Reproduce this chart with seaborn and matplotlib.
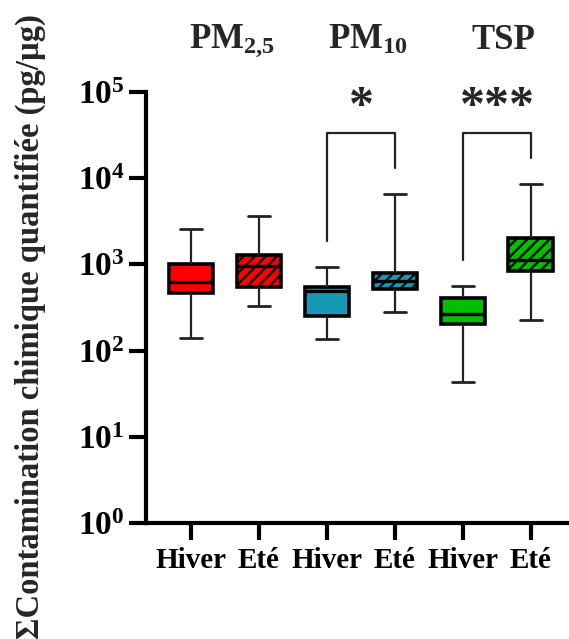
import matplotlib
matplotlib.use("Agg")
import matplotlib.pyplot as plt
import seaborn as sns
import pandas as pd
import numpy as np

# ---- data (min, Q1, median, Q3, max) ----
groups = ["PM$_{2{,}5}$", "PM$_{10}$", "TSP"]
seasons = ["Hiver", "Eté"]
hiver_pm25 = [140, 470, 630, 1010, 2550]
ete_pm25 = [329, 542, 966, 1285, 3670]
hiver_pm10 = [137, 252, 490, 551, 925]
ete_pm10 = [278, 523, 642, 795, 6560]
hiver_tsp = [43, 202, 268, 408, 557]
ete_tsp = [226, 845, 1125, 2025, 8490]
tick_labels = ["Hiver", "Eté", "Hiver", "Eté", "Hiver", "Eté"]
y_ticks = [1, 10, 100, 1000, 10000, 100000]
significance = {"PM$_{10}$": "*", "TSP": "***"}
group_colors = ["#FF0000", "#1699B4", "#00BF00"]

series = [hiver_pm25, ete_pm25, hiver_pm10, ete_pm10, hiver_tsp, ete_tsp]
cats = [f"{g} {s}" for g in groups for s in seasons]
rows = []
for c, vals in zip(cats, series):
    for v in vals:
        rows.append({"cat": c, "val": v})
df = pd.DataFrame(rows)
palette = [col for col in group_colors for _ in seasons]

sns.set_theme(style="ticks")
plt.rcParams["font.family"] = ["Liberation Serif", "DejaVu Serif"]
plt.rcParams["font.weight"] = "bold"
plt.rcParams["mathtext.fontset"] = "custom"
plt.rcParams["mathtext.rm"] = "Liberation Serif:bold"
plt.rcParams["mathtext.bf"] = "Liberation Serif:bold"
plt.rcParams["mathtext.it"] = "Liberation Serif:bold"
plt.rcParams["mathtext.default"] = "bf"
plt.rcParams["hatch.linewidth"] = 1.6
plt.rcParams["hatch.color"] = "black"
plt.rcParams["axes.edgecolor"] = "black"

fig = plt.figure(figsize=(5.69, 6.39), dpi=100)
ax = fig.add_axes([146 / 569, 1 - 523 / 639, 1 - 146 / 569, (523 - 92) / 639])

sns.boxplot(data=df, x="cat", y="val", hue="cat", palette=palette, legend=False,
            order=cats, hue_order=cats, whis=(0, 100), width=0.66,
            log_scale=True, linecolor="black", linewidth=2.0, saturation=1,
            showfliers=False, ax=ax,
            boxprops=dict(linewidth=2.6),
            medianprops=dict(linewidth=2.4, color="black"),
            whiskerprops=dict(linewidth=1.6, color="#222222"),
            capprops=dict(linewidth=2.0, color="#222222"))

for i, p in enumerate(ax.patches):
    if i % 2 == 1:
        p.set_hatch("///")
    p.set_edgecolor("black")

ax.set_yscale("log")
ax.set_ylim(1, 1e5)
ax.set_xlim(-0.662, 5.56)
ax.set_yticks(y_ticks)
ax.set_yticklabels([rf"$\mathbf{{10^{{{int(np.log10(t))}}}}}$" for t in y_ticks])
ax.yaxis.set_minor_locator(matplotlib.ticker.NullLocator())
ax.set_xticks(range(len(cats)))
ax.set_xticklabels(tick_labels)
ax.set_xlabel("")
ax.set_ylabel("")
for s in ["top", "right"]:
    ax.spines[s].set_visible(False)
for s in ["left", "bottom"]:
    ax.spines[s].set_linewidth(3.0)
    ax.spines[s].set_color("black")
ax.tick_params(axis="both", width=3.0, length=12.5, colors="black")
ax.tick_params(axis="y", pad=3, labelsize=24)
ax.tick_params(axis="x", pad=5, labelsize=21)
for lab in ax.get_xticklabels() + ax.get_yticklabels():
    lab.set_fontweight("bold")

# group titles
for gi, g in enumerate(groups):
    xc = gi * 2 + 0.5
    ax.text(xc + 0.1, 10 ** 5.60, g, ha="center", va="center", fontsize=25,
            fontweight="bold", clip_on=False)

# significance brackets
top = 10 ** 4.524
for gi, g in enumerate(groups):
    if g not in significance:
        continue
    x0, x1 = gi * 2, gi * 2 + 1
    y0 = max(series[x0]) * 2.0
    y1 = max(series[x1]) * 2.0
    ax.plot([x0, x0, x1, x1], [y0, top, top, y1], color="#222222", lw=1.6,
            clip_on=False)
    ax.text((x0 + x1) / 2, 10 ** 4.82, significance[g], ha="center", va="center",
            fontsize=36, fontweight="bold", clip_on=False)

fig.text(30 / 569, 1 - 327 / 639, "ΣContamination chimique quantifiée (pg/µg)",
         rotation=90, ha="center", va="center", fontsize=23.5, fontweight="bold")

fig.savefig("out.png", dpi=100)
